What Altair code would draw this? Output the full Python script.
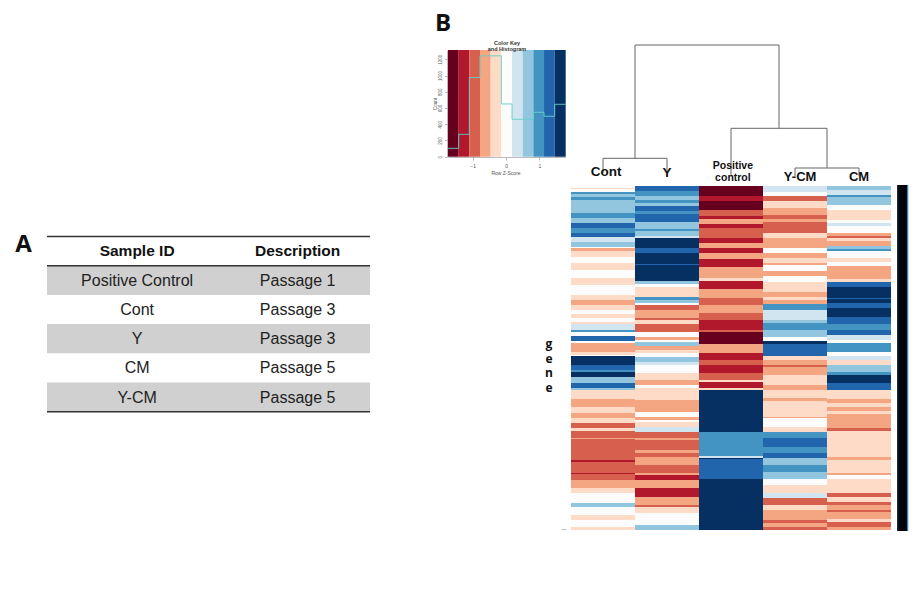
import altair as alt
import pandas as pd

OFF = 8  # page margin
PLOT_H = 578

# ---------- Table A ----------
TABLE_IDS = ["Positive Control", "Cont", "Y", "CM", "Y-CM"]
TABLE_DESC = ["Passage 1", "Passage 3", "Passage 3", "Passage 5", "Passage 5"]
TABLE_HEAD = ["Sample ID", "Description"]

# ---------- Heatmap: (last gene row of the run, colour level) ----------
RDBU = ["#67001f", "#b2182b", "#d6604d", "#f4a582", "#fddbc7", "#fcfcfc",
        "#d1e5f0", "#92c5de", "#4393c3", "#2166ac", "#053061"]
SAMPLES = ["Cont", "Y", "Positive", "Y-CM", "CM"]
CONT = [(188,5),(189,4),(192,5),(194,8),(197,7),(200,8),(213,7),(218,8),(223,7),(228,9),(233,8),(237,9),
        (242,6),(247,7),(248,5),(251,3),(255,4),(257,4),(263,5),(270,4),(278,5),(285,4),(295,5),
        (300,4),(305,3),(310,4),(314,5),(318,4),(322,5),(324,4),(330,6),(332,8),(336,5),(341,9),
        (343,5),(352,3),(355,4),(356,5),(365,10),(370,9),(372,8),(377,10),(383,7),(388,9),(390,7),
        (399,4),(407,3),(413,4),(418,3),(423,4),(428,2),(431,4),(438,2),(439,3),(460,2),(462,1),
        (473,2),(474,1),(480,2),(488,3),(493,4),(498,5),(503,5),(507,7),(515,5),(520,4),(523,5),
        (527,5),(530,4)]
Y = [(191,9),(196,8),(200,7),(203,8),(206,7),(211,9),(214,8),(222,9),(229,7),(231,8),(236,7),(238,6),
     (248,10),(253,9),(264,10),(265,9),(281,10),(284,7),(287,5),(297,4),(300,8),(303,7),(305,5),
     (310,2),(318,3),(320,2),(324,4),(332,2),(337,5),(340,3),(342,5),(346,7),(350,3),(353,4),
     (357,5),(362,7),(365,6),(373,5),(380,4),(385,3),(388,5),(400,4),(412,3),(417,5),(420,3),
     (422,5),(427,4),(432,6),(438,2),(440,3),(450,2),(453,3),(457,2),(465,3),(473,2),(475,3),
     (480,1),(488,3),(497,1),(505,3),(507,2),(513,4),(525,5),(530,7)]
POSITIVE = [(196,0),(201,1),(210,0),(216,2),(219,1),(224,3),(228,1),(238,2),(243,1),(248,3),(253,1),
            (259,3),(267,1),(278,3),(281,4),(289,1),(298,3),(305,2),(313,3),(320,2),(330,1),
            (332,2),(344,0),(353,3),(360,1),(365,2),(373,1),(380,2),(382,4),(388,1),(390,4),
            (432,10),(456,8),(458,6),(459,10),(479,9),(530,10)]
Y_CM = [(192,6),(196,5),(201,2),(204,4),(208,4),(215,3),(219,2),(222,3),(225,2),(233,2),(238,4),(243,3),
        (248,3),(253,5),(258,3),(263,4),(265,3),(271,5),(276,3),(282,5),(292,4),(297,3),(300,4),
        (304,3),(310,8),(320,6),(323,7),(330,8),(337,7),(341,5),(344,10),(356,9),(360,4),(365,3),
        (367,2),(375,3),(380,4),(385,4),(390,3),(398,4),(401,3),(417,4),(418,3),(427,5),(432,4),
        (438,8),(447,9),(453,8),(458,9),(465,7),(472,8),(479,7),(485,5),(493,4),(498,6),(505,2),
        (510,4),(520,3),(523,2),(527,3),(530,2)]
CM = [(190,7),(195,6),(197,8),(205,7),(210,5),(220,4),(223,5),(226,6),(233,5),(236,3),(238,2),(241,4),
      (246,3),(249,7),(251,8),(258,5),(262,4),(266,5),(273,3),(279,3),(282,4),(287,9),(298,10),
      (299,9),(303,10),(308,9),(317,10),(324,9),(330,8),(335,9),(340,6),(343,5),(352,8),(356,5),
      (360,6),(365,4),(372,7),(375,8),(383,10),(390,9),(399,4),(403,3),(407,4),(411,3),(414,4),
      (418,3),(423,3),(428,3),(431,2),(457,4),(460,3),(463,4),(473,4),(475,3),(479,5),(493,4),
      (497,2),(502,4),(505,2),(510,3),(512,2),(519,3),(522,4),(527,2),(530,3)]
COLUMNS = [CONT, Y, POSITIVE, Y_CM, CM]
ROW_START = 186

# ---------- Colour key ----------
KEY_EDGES = [-1.74, -1.42, -1.10, -0.78, -0.46, -0.14, 0.18, 0.50, 0.82, 1.14, 1.46, 1.79]
KEY_HIST = [103, 276, 975, 1243, 1243, 650, 461, 461, 547, 498, 646]
COUNT_TICKS = [0, 200, 400, 600, 800, 1000, 1200]
Z_TICKS = [-1, 0, 1]

# ---------- Dendrogram (sample position, height) ----------
DEND_H = [(0.5, 1.5, 17.7), (2.5, 4.0, 47.7), (3.5, 4.5, 8), (1.0, 3.25, 131)]
DEND_V = [(0.5, 3, 17.7), (1.5, 3, 17.7), (2.5, 0, 47.7), (3.5, 0, 8), (4.5, 0, 8),
          (4.0, 8, 47.7), (1.0, 17.7, 131), (3.25, 47.7, 131)]
COL_LABELS = [("Cont", 0.55, 172, 13.5), ("Y", 1.5, 173, 13.5), ("Positive", 2.53, 166, 10.5),
              ("control", 2.53, 178, 10.5), ("Y-CM", 3.58, 177, 13), ("CM", 4.5, 177, 13)]

# ---------- scales ----------
def rng(a, b):
    return [a - OFF, b - OFF]

hx = alt.Scale(domain=[0, 5], range=rng(571, 891), nice=False, zero=False)
hy = alt.Scale(domain=[ROW_START, 530], range=rng(186, 530), nice=False, zero=False)
dy = alt.Scale(domain=[0, 131], range=rng(176, 45), nice=False, zero=False)
kx = alt.Scale(domain=[-1.74, 1.79], range=rng(448, 565.7), nice=False, zero=False)
ky = alt.Scale(domain=[0, 1315], range=rng(156.7, 50), nice=False, zero=False)
tx = alt.Scale(domain=[0, 1], range=rng(47, 370), nice=False, zero=False)
ty = alt.Scale(domain=[0, 6], range=rng(236.5, 411.7), nice=False, zero=False)
ly = alt.Scale(domain=[0, 600], range=rng(0, 600), nice=False, zero=False)
colour = alt.Scale(domain=list(range(11)), range=RDBU)

# ---------- table layers ----------
rows = pd.DataFrame({"r": range(5), "id": TABLE_IDS, "desc": TABLE_DESC})
rows["r0"] = rows.r + 1
rows["r1"] = rows.r + 2
rows["mid"] = rows.r + 1.52
rows["x0"] = 0.0
rows["x1"] = 1.0
rows["xa"] = 0.279
rows["xb"] = 0.776
grey = alt.Chart(rows[rows.r % 2 == 0]).mark_rect(color="#d0d0d0").encode(
    x=alt.X("x0:Q", scale=tx, axis=None), x2="x1:Q",
    y=alt.Y("r0:Q", scale=ty, axis=None), y2="r1:Q")
def table_text(col, xcol):
    return alt.Chart(rows).mark_text(font="Liberation Sans", fontSize=16, color="#222",
                                     align="center", baseline="middle").encode(
        x=alt.X(f"{xcol}:Q", scale=tx, axis=None), y=alt.Y("mid:Q", scale=ty, axis=None),
        text=f"{col}:N")
head = pd.DataFrame({"x": [0.279, 0.776], "y": [0.5, 0.5], "t": TABLE_HEAD})
head_text = alt.Chart(head).mark_text(font="Liberation Sans", fontSize=15.5, fontWeight="bold",
                                      color="#111", align="center", baseline="middle").encode(
    x=alt.X("x:Q", scale=tx, axis=None), y=alt.Y("y:Q", scale=ty, axis=None), text="t:N")
lines = pd.DataFrame({"y": [0, 1, 6], "a": [0.0] * 3, "b": [1.0] * 3})
table_rules = alt.Chart(lines).mark_rule(color="#333", strokeWidth=1.5).encode(
    x=alt.X("a:Q", scale=tx, axis=None), x2="b:Q", y=alt.Y("y:Q", scale=ty, axis=None))

# ---------- heatmap ----------
recs = []
for c, runs in enumerate(COLUMNS):
    start = ROW_START
    for end, lev in runs:
        recs.append({"c0": c, "c1": c + 1, "g0": start, "g1": end, "lev": lev})
        start = end
heat = alt.Chart(pd.DataFrame(recs)).mark_rect(strokeWidth=0).encode(
    x=alt.X("c0:Q", scale=hx, axis=None), x2="c1:Q",
    y=alt.Y("g0:Q", scale=hy, axis=None), y2="g1:Q",
    color=alt.Color("lev:O", scale=colour, legend=None))

# ---------- side bar ----------
side = pd.DataFrame({"a": [5.095, 5.11, 5.25], "b": [5.11, 5.25, 5.27],
                     "g0": [ROW_START - 1] * 3, "g1": [531] * 3,
                     "c": ["#0a1a3a", "#03030a", "#2f86c0"]})
sidebar = alt.Chart(side).mark_rect(strokeWidth=0).encode(
    x=alt.X("a:Q", scale=hx, axis=None), x2="b:Q",
    y=alt.Y("g0:Q", scale=hy, axis=None), y2="g1:Q",
    color=alt.Color("c:N", scale=None))

# ---------- dendrogram ----------
dh = pd.DataFrame(DEND_H, columns=["a", "b", "h"])
dv = pd.DataFrame(DEND_V, columns=["x", "h0", "h1"])
d_h = alt.Chart(dh).mark_rule(color="#666", strokeWidth=1).encode(
    x=alt.X("a:Q", scale=hx, axis=None), x2="b:Q", y=alt.Y("h:Q", scale=dy, axis=None))
d_v = alt.Chart(dv).mark_rule(color="#666", strokeWidth=1).encode(
    x=alt.X("x:Q", scale=hx, axis=None), y=alt.Y("h0:Q", scale=dy, axis=None), y2="h1:Q")

labels = pd.DataFrame(COL_LABELS, columns=["t", "x", "py", "fs"])
label_layers = [
    alt.Chart(labels[labels.fs == fs]).mark_text(font="Liberation Sans", fontWeight="bold", fontSize=fs,
                                                  color="#111", align="center", baseline="middle").encode(
        x=alt.X("x:Q", scale=hx, axis=None), y=alt.Y("py:Q", scale=ly, axis=None), text="t:N")
    for fs in sorted(set(labels.fs))
]

# ---------- colour key ----------
key = pd.DataFrame({"z0": KEY_EDGES[:-1], "z1": KEY_EDGES[1:], "lev": list(range(11)),
                    "a": [0] * 11, "b": [1315] * 11})
key_bars = alt.Chart(key).mark_rect(strokeWidth=0).encode(
    x=alt.X("z0:Q", scale=kx,
            axis=alt.Axis(orient="bottom", offset=(157 - OFF) - PLOT_H, values=Z_TICKS, title=None, grid=False,
                          labelFontSize=5, labelColor="#555", tickSize=3, tickColor="#777",
                          domainColor="#777", domainWidth=0.5, tickWidth=0.5, format="d",
                          labelPadding=3, labelFont="Liberation Sans")),
    x2="z1:Q",
    y=alt.Y("a:Q", scale=ky,
            axis=alt.Axis(orient="left", offset=-(447 - OFF), values=COUNT_TICKS, title=None, grid=False,
                          labelFontSize=4.5, labelColor="#555", labelAngle=-90, labelAlign="center",
                          labelBaseline="bottom", tickSize=2.5, tickColor="#777", domainColor="#777",
                          domainWidth=0.5, tickWidth=0.5, format="d", labelFont="Liberation Sans")),
    y2="b:Q",
    color=alt.Color("lev:O", scale=colour, legend=None))
hist = pd.DataFrame({"z": KEY_EDGES, "n": KEY_HIST + [KEY_HIST[-1]]})
hist_line = alt.Chart(hist).mark_line(interpolate="step-after", color="#5fd0c8", strokeWidth=1, opacity=0.9).encode(
    x=alt.X("z:Q", scale=kx, axis=None), y=alt.Y("n:Q", scale=ky, axis=None))

# ---------- free annotations ----------
def note(text, px, py, size, weight="normal", font="Liberation Sans", colr="#333", angle=0):
    return alt.Chart(pd.DataFrame({"t": [text]})).mark_text(
        font=font, fontSize=size, fontWeight=weight, color=colr, angle=angle,
        align="center", baseline="middle").encode(
        x=alt.value(px - OFF), y=alt.value(py - OFF), text="t:N")

gene = alt.Chart(pd.DataFrame({"a": [1]})).mark_text(
    text=["g", "e", "n", "e"], lineHeight=14.7, font="Open Sans", fontSize=12, fontWeight="bold",
    color="#111", align="center", baseline="top").encode(x=alt.value(549 - OFF), y=alt.value(339 - OFF))

notes = [
    note("A", 23.5, 245, 24, "bold", "Open Sans", "#111"),
    note("B", 443, 24, 24, "bold", "Open Sans", "#111"),
    note("Color Key", 507, 43, 5.5, "bold"),
    note("and Histogram", 507, 49, 5.5, "bold"),
    note("Row Z-Score", 506, 173, 5, colr="#555"),
    note("Count", 436, 104, 4.5, colr="#555", angle=270),
    note("\u2014", 564, 529, 5, colr="#666"),
    gene,
]

layers = [grey, table_text("id", "xa"), table_text("desc", "xb"), head_text, table_rules,
          heat, sidebar, d_h, d_v, *label_layers, key_bars, hist_line, *notes]

chart = alt.layer(*layers).resolve_scale(x="independent", y="independent").properties(
    width=906, height=PLOT_H, padding=0, background="white",
    autosize=alt.AutoSizeParams(type="none")
).configure_view(stroke=None)

chart.save("out.html", embed_options={"renderer": "svg", "actions": False})
